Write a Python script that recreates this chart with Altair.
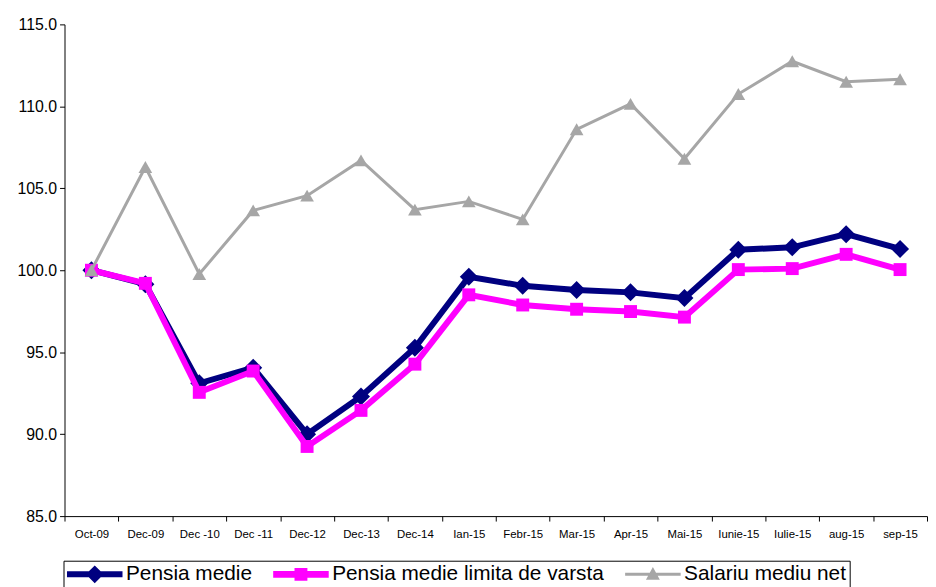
import altair as alt
import pandas as pd

categories = ["Oct-09", "Dec-09", "Dec -10", "Dec -11", "Dec-12", "Dec-13", "Dec-14",
              "Ian-15", "Febr-15", "Mar-15", "Apr-15", "Mai-15", "Iunie-15",
              "Iulie-15", "aug-15", "sep-15"]

series_names = ["Pensia medie", "Pensia medie limita de varsta", "Salariu mediu net"]

pensia_medie = [100.0, 99.15, 93.1, 94.05, 90.0, 92.3, 95.27, 99.6, 99.05, 98.8,
                98.65, 98.3, 101.25, 101.4, 102.2, 101.3]
pensia_limita = [100.0, 99.2, 92.55, 93.85, 89.25, 91.45, 94.27, 98.5, 97.88, 97.62,
                 97.48, 97.14, 100.04, 100.1, 100.97, 100.04]
salariu_net = [100.0, 106.3, 99.77, 103.65, 104.55, 106.7, 103.7, 104.2, 103.1, 108.6,
               110.15, 106.8, 110.75, 112.75, 111.5, 111.65]

y_ticks = [85, 90, 95, 100, 105, 110, 115]

colors = ["#000080", "#FF00FF", "#A6A6A6"]
line_widths = [6, 6, 3]
marker_shapes = ["diamond", "square", "triangle-up"]
marker_sizes = [330, 170, 190]
# legend symbols: a line segment with the marker in its middle (unit = 10px)
legend_paths = [
    "M-1,-0.3H4.6V0.3H-1Z M0.9,0L1.8,-0.9L2.7,0L1.8,0.9Z",
    "M-1,-0.35H4.6V0.35H-1Z M1.15,-0.65H2.45V0.65H1.15Z",
    "M-1,-0.15H4.6V0.15H-1Z M1.8,-0.75L2.5,0.55L1.1,0.55Z",
]

rows = []
for name, vals in zip(series_names, [pensia_medie, pensia_limita, salariu_net]):
    for c, v in zip(categories, vals):
        rows.append({"cat": c, "series": name, "value": v})
df = pd.DataFrame(rows)

FONT = "Liberation Sans"

x_enc = alt.X(
    "cat:N",
    sort=categories,
    scale=alt.Scale(type="band", domain=categories, paddingInner=0, paddingOuter=0),
    bandPosition=0.5,
    axis=alt.Axis(title=None, labelAngle=0, tickBand="extent", tickSize=5,
                  labelFontSize=11.5, labelFont=FONT, labelPadding=8,
                  domainColor="black", tickColor="black", labelColor="black",
                  grid=False),
)
y_enc = alt.Y(
    "value:Q",
    scale=alt.Scale(domain=[85, 115], nice=False, zero=False),
    axis=alt.Axis(title=None, values=y_ticks, format=".1f", labelFontSize=16,
                  labelFont=FONT, tickSize=5, labelPadding=3,
                  domainColor="black", tickColor="black", labelColor="black",
                  grid=False),
)

legend_def = alt.Legend(
    title=None, orient="none", legendX=-1, legendY=541,
    direction="horizontal", strokeColor="black", fillColor="white",
    padding=3, labelFontSize=21, labelFont=FONT, labelColor="black",
    symbolSize=400, symbolStrokeWidth=0, symbolOpacity=1,
    labelOffset=39, columnPadding=20, labelLimit=500)

base = alt.Chart(df)
layers = []
for name, col, lw, shp, sz in zip(series_names, colors, line_widths, marker_shapes, marker_sizes):
    sub = base.transform_filter(alt.datum.series == name)
    layers.append(sub.mark_line(color=col, strokeWidth=lw).encode(x=x_enc, y=y_enc))
    layers.append(sub.mark_point(shape=shp, size=sz, color=col, filled=True, opacity=1)
                  .encode(x=x_enc, y=y_enc))

legend_layer = base.mark_point(filled=True, opacity=0).encode(
    x=x_enc,
    y=y_enc,
    color=alt.Color("series:N",
                    scale=alt.Scale(domain=series_names, range=colors),
                    legend=legend_def),
    shape=alt.Shape("series:N",
                    scale=alt.Scale(domain=series_names, range=legend_paths),
                    legend=legend_def),
)

chart = alt.layer(*layers, legend_layer).properties(
    width=870,
    height=496,
    autosize=alt.AutoSizeParams(type="none"),
    padding={"left": 57, "top": 14, "right": 1, "bottom": 70},
    background="white",
).configure_view(stroke=None)

chart.save("out.html", embed_options={"renderer": "svg", "actions": False})
